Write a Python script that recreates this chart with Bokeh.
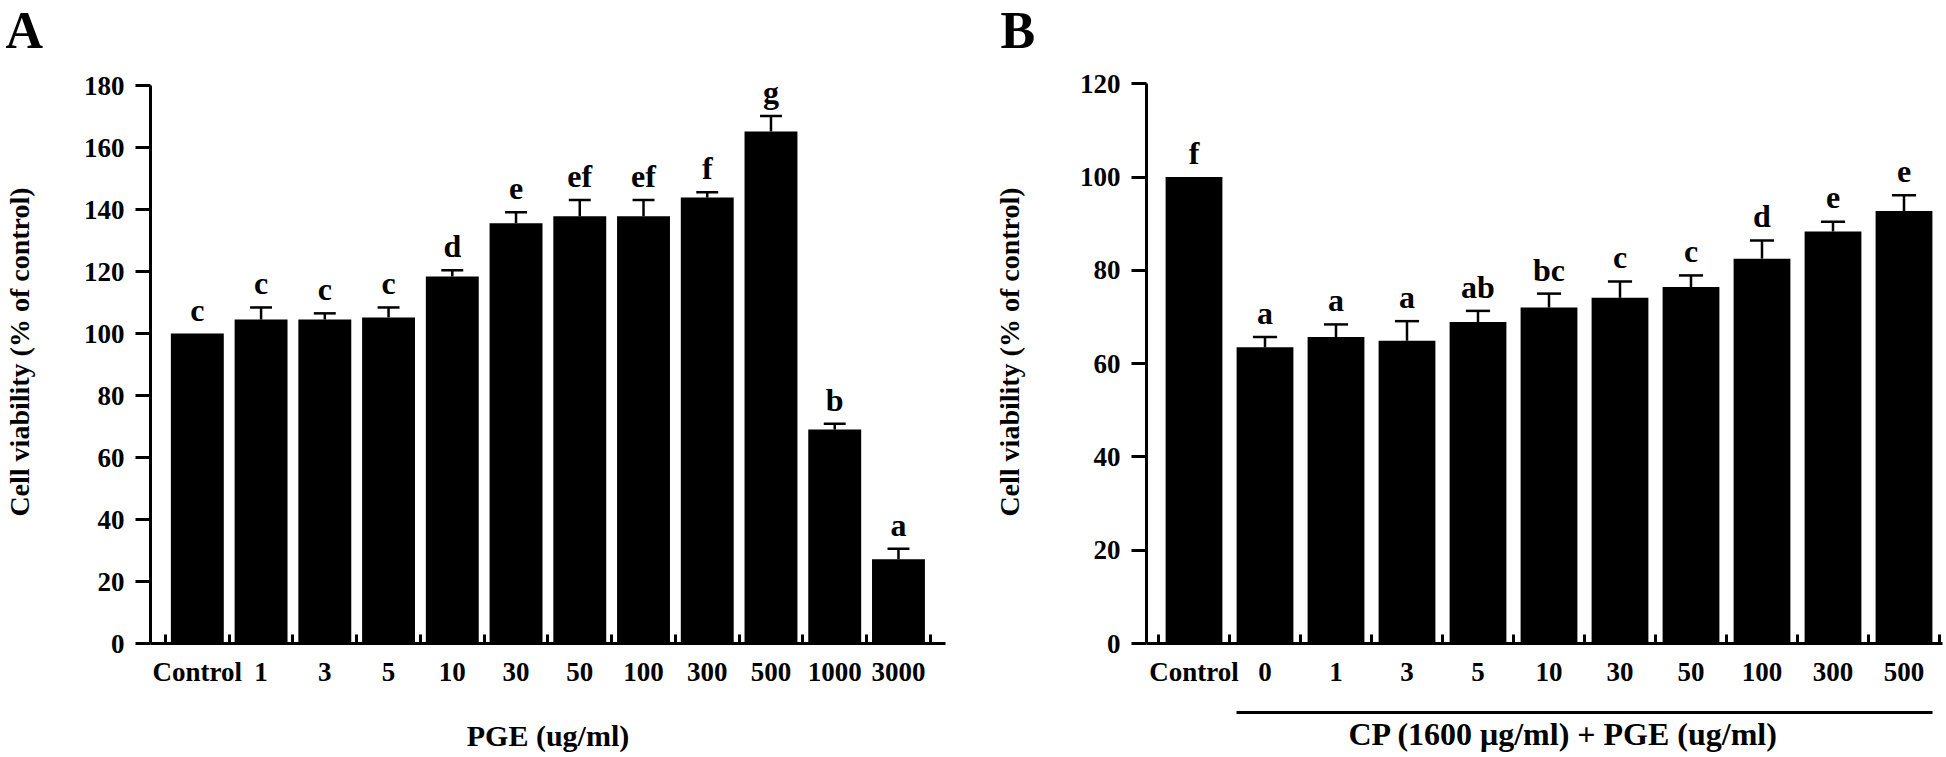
from bokeh.plotting import figure
from bokeh.models import Range1d, FixedTicker, LinearAxis, ColumnDataSource, Title
from bokeh.layouts import row
from bokeh.core.properties import value
from bokeh.embed import file_html
from bokeh.resources import INLINE

# ---------------- data ----------------
a_labels = ["Control", "1", "3", "5", "10", "30", "50", "100", "300", "500", "1000", "3000"]
a_mean = [100, 104.5, 104.5, 105.2, 118.4, 135.6, 137.8, 137.8, 143.9, 165.2, 69.0, 27.2]
a_sd = [0, 3.9, 2.0, 3.2, 2.0, 3.5, 5.3, 5.3, 1.7, 5.0, 1.9, 3.4]
a_letters = ["c", "c", "c", "c", "d", "e", "ef", "ef", "f", "g", "b", "a"]
a_yticks = [0, 20, 40, 60, 80, 100, 120, 140, 160, 180]

b_labels = ["Control", "0", "1", "3", "5", "10", "30", "50", "100", "300", "500"]
b_mean = [100, 63.5, 65.7, 64.9, 68.9, 72.0, 74.1, 76.4, 82.5, 88.3, 92.7]
b_sd = [0, 2.2, 2.7, 4.2, 2.4, 3.0, 3.5, 2.5, 3.9, 2.1, 3.4]
b_letters = ["f", "a", "a", "a", "ab", "bc", "c", "c", "d", "e", "e"]
b_yticks = [0, 20, 40, 60, 80, 100, 120]

a_xtitle = "PGE (ug/ml)"
b_xtitle = "CP (1600 \u03bcg/ml) + PGE (ug/ml)"
y_title = "Cell viability (% of control)"

FONT = "Liberation Serif"
H = 757
TOP = 60
BOTTOM = 114


def style_text(obj, prefix, size):
    setattr(obj, prefix + "_text_font", FONT)
    setattr(obj, prefix + "_text_font_style", "bold")
    setattr(obj, prefix + "_text_font_size", size)
    setattr(obj, prefix + "_text_color", "black")


def make_panel(letter, labels, mean, sd, letters, yticks, ytitle,
               width, mb_left, mb_right, px_unit, pad_left, y_scale,
               bar_w, cap_half, ylab_standoff, letter_offset):
    n = len(labels)
    xs = list(range(n))
    frame_w = width - mb_left - mb_right
    frame_h = H - TOP - BOTTOM
    x0 = -0.5 - pad_left / px_unit
    p = figure(width=width, height=H, output_backend="svg", toolbar_location=None,
               x_range=Range1d(x0, x0 + frame_w / px_unit),
               y_range=Range1d(0, frame_h / y_scale),
               min_border_left=mb_left, min_border_right=mb_right,
               min_border_top=TOP, min_border_bottom=BOTTOM)
    p.outline_line_color = None
    p.xgrid.visible = False
    p.ygrid.visible = False
    p.background_fill_color = "white"
    p.border_fill_color = "white"

    src = ColumnDataSource(dict(x=xs, top=mean, sd=sd,
                                err=[m + s for m, s in zip(mean, sd)],
                                lab=letters))
    p.vbar(x="x", top="top", width=bar_w, bottom=0, source=src,
           fill_color="black", line_color=None)

    ex = [x for x, s in zip(xs, sd) if s > 0]
    e0 = [m for m, s in zip(mean, sd) if s > 0]
    e1 = [m + s for m, s in zip(mean, sd) if s > 0]
    p.segment(x0=ex, y0=e0, x1=ex, y1=e1, line_color="black", line_width=2.5)
    p.segment(x0=[x - cap_half for x in ex], y0=e1, x1=[x + cap_half for x in ex], y1=e1,
              line_color="black", line_width=2.5)

    p.text(x="x", y="err", text="lab", source=src, text_align="center",
           text_baseline="alphabetic", y_offset=-24,
           text_font=value(FONT), text_font_style="bold", text_font_size="32px",
           text_color="black")

    # x axis: baseline with small inward ticks between bars
    xa = p.xaxis[0]
    xa.ticker = FixedTicker(ticks=xs, minor_ticks=[x + 0.5 for x in [-1] + xs])
    xa.major_label_overrides = {i: l for i, l in enumerate(labels)}
    xa.major_tick_in = 0
    xa.major_tick_out = 0
    xa.minor_tick_in = 9
    xa.minor_tick_out = 0
    xa.minor_tick_line_width = 3
    xa.minor_tick_line_color = "black"
    xa.axis_line_width = 3
    xa.axis_line_color = "black"
    style_text(xa, "major_label", "27px")
    xa.major_label_standoff = 13

    # y axis
    ya = p.yaxis[0]
    ya.ticker = FixedTicker(ticks=yticks)
    ya.bounds = (yticks[0], yticks[-1])
    ya.major_tick_out = 15
    ya.major_tick_in = 0
    ya.major_tick_line_width = 3
    ya.minor_tick_line_color = None
    ya.axis_line_width = 3
    ya.axis_line_color = "black"
    style_text(ya, "major_label", "27px")
    ya.major_label_standoff = 11
    ya.axis_label = ytitle
    ya.axis_label_standoff = ylab_standoff
    style_text(ya, "axis_label", "28px")

    # panel letter
    p.title.text = letter
    p.title.align = "left"
    p.title.vertical_align = "top"
    p.title.offset = letter_offset
    p.title.standoff = 0
    p.title.text_font = FONT
    p.title.text_font_style = "bold"
    p.title.text_font_size = "52px"
    p.title.text_color = "black"
    return p, xs


# ---------------- panel A ----------------
pa, _ = make_panel("A", a_labels, a_mean, a_sd, a_letters, a_yticks, y_title,
                   width=990, mb_left=148, mb_right=45, px_unit=63.9, pad_left=15,
                   y_scale=3.1, bar_w=0.83, cap_half=0.172, ylab_standoff=46,
                   letter_offset=-145)
xa = pa.xaxis[0]
xa.axis_label = a_xtitle
xa.axis_label_standoff = 29
style_text(xa, "axis_label", "30px")

# ---------------- panel B ----------------
B_BW = 0.80
pb, bxs = make_panel("B", b_labels, b_mean, b_sd, b_letters, b_yticks, y_title,
                     width=956, mb_left=156, mb_right=4, px_unit=71.0, pad_left=12,
                     y_scale=4.665, bar_w=B_BW, cap_half=0.17, ylab_standoff=52,
                     letter_offset=-146)
xb = pb.xaxis[0]
# invisible spacer so that the bracket line sits below the tick labels
xb.axis_label = "\u00a0"
xb.axis_label_standoff = 14
xb.axis_label_text_font_size = "6px"

# bracket line under the CP-treated groups
line_ax = LinearAxis(bounds=(bxs[1] - B_BW / 2, bxs[-1] + B_BW / 2),
                     ticker=FixedTicker(ticks=[]), axis_line_width=3, axis_line_color="black",
                     major_tick_line_color=None, minor_tick_line_color=None,
                     major_label_text_font_size="0px", major_label_standoff=0,
                     major_tick_out=0, major_tick_in=0)
pb.add_layout(line_ax, "below")

b_title = Title(text=b_xtitle, align="left", offset=202, vertical_align="top", standoff=6,
                text_font=FONT, text_font_style="bold", text_font_size="32px",
                text_color="black")
pb.add_layout(b_title, "below")

layout = row(pa, pb)
open("out.html", "w").write(file_html(layout, INLINE))
